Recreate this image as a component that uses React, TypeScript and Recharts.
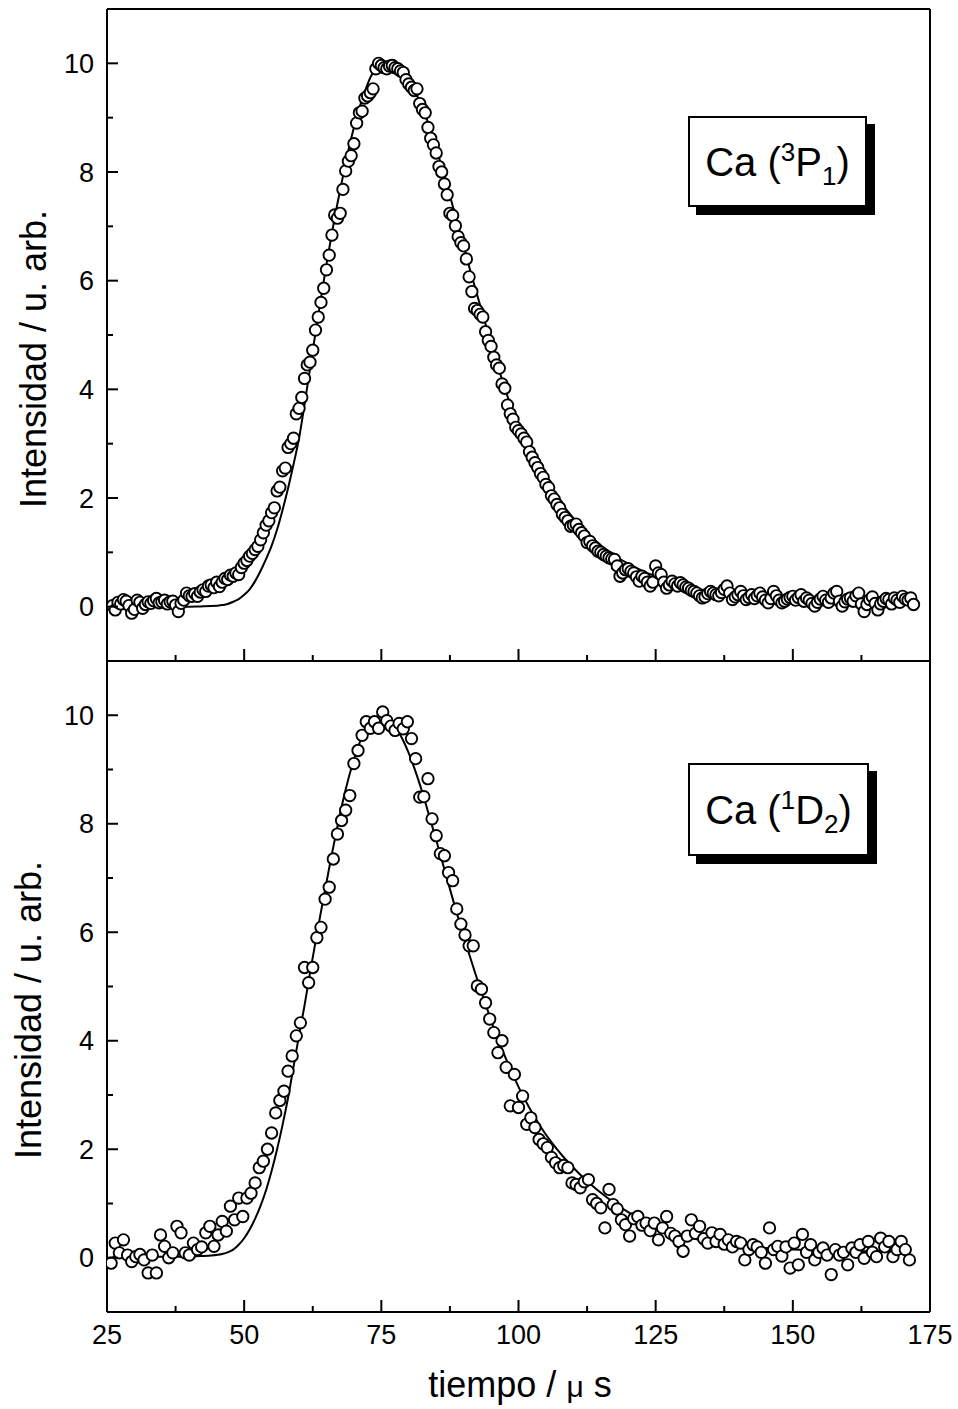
import React from 'react';
import { ComposedChart, Line, ReferenceLine, Scatter, XAxis, YAxis } from 'recharts';

const FONT = '"Liberation Sans", Arial, Helvetica, sans-serif';

// sampling grid of the measured points (µs)
const TOP_T0 = 26;
const TOP_DT = 0.5;
const BOT_T0 = 25.75;
const BOT_DT = 0.75;

// Ca(3P1) measured intensity, one value per grid step
const TOP_V = [
  0.02, -0.06, 0.08, 0.05, 0.13, 0.1, 0.02, -0.12, -0.05, 0.12,
  0.08, -0.03, 0.04, 0.09, 0.06, 0.11, 0.15, 0.07, 0.09, 0.12,
  0.05, 0.09, 0.1, 0.03, -0.09, 0.06, 0.12, 0.25, 0.2, 0.19,
  0.24, 0.19, 0.27, 0.31, 0.28, 0.38, 0.4, 0.35, 0.45, 0.37,
  0.45, 0.52, 0.5, 0.58, 0.56, 0.62, 0.59, 0.72, 0.8, 0.85,
  0.93, 0.98, 1.05, 1.11, 1.23, 1.36, 1.5, 1.58, 1.73, 1.82,
  2.13, 2.2, 2.5, 2.55, 2.93, 3.0, 3.1, 3.55, 3.65, 3.85,
  4.2, 4.45, 4.5, 4.72, 5.09, 5.33, 5.6, 5.86, 6.2, 6.47,
  6.84, 7.21, 7.15, 7.24, 7.68, 8.02, 8.2, 8.3, 8.52, 8.9,
  9.09, 9.12, 9.36, 9.4, 9.46, 9.53, 9.9, 10.0, 9.96, 9.92,
  9.9, 9.95, 9.96, 9.92, 9.9, 9.86, 9.83, 9.7, 9.62, 9.56,
  9.5, 9.53, 9.26, 9.15, 9.09, 8.82, 8.62, 8.5, 8.35, 8.1,
  8.0, 7.78, 7.58, 7.24, 7.2, 7.01, 6.81, 6.7, 6.64, 6.4,
  6.07, 5.8, 5.49, 5.45, 5.38, 5.33, 5.06, 4.9, 4.79, 4.59,
  4.45, 4.39, 4.1, 4.02, 3.71, 3.55, 3.45, 3.3, 3.24, 3.18,
  3.1, 3.03, 2.85, 2.75, 2.65, 2.56, 2.45, 2.38, 2.25, 2.19,
  2.04, 1.98, 1.88, 1.82, 1.7, 1.64, 1.58, 1.48, 1.5, 1.52,
  1.42, 1.36, 1.3, 1.18, 1.2, 1.12, 1.08, 1.02, 1.0, 0.96,
  0.93, 0.9, 0.88, 0.87, 0.75, 0.56, 0.62, 0.68, 0.7, 0.65,
  0.62, 0.55, 0.47, 0.56, 0.52, 0.45, 0.38, 0.45, 0.75, 0.62,
  0.59, 0.45, 0.34, 0.4, 0.47, 0.42, 0.38, 0.44, 0.4, 0.36,
  0.34, 0.3, 0.28, 0.25, 0.2, 0.16, 0.18, 0.24, 0.28, 0.25,
  0.22, 0.2, 0.26, 0.32, 0.38, 0.25, 0.13, 0.18, 0.22, 0.28,
  0.2, 0.13, 0.17, 0.22, 0.15, 0.2, 0.25, 0.18, 0.12, 0.07,
  0.15, 0.28, 0.2, 0.12, 0.07, 0.1, 0.14, 0.17, 0.19, 0.12,
  0.17, 0.22, 0.1, 0.16, 0.12, 0.06, 0.01, 0.08, 0.14, 0.19,
  0.12, 0.08, 0.16, 0.25, 0.28, 0.1, 0.01, 0.09, 0.14, 0.16,
  0.1, 0.2, 0.25, 0.05, -0.09, 0.04, 0.13, 0.18, 0.06, -0.06,
  0.05, 0.1, 0.15, 0.13, 0.05, 0.16, 0.12, 0.08, 0.19, 0.14,
  0.12, 0.16, 0.04,
];

// Ca(1D2) measured intensity
const BOT_V = [
  -0.1, 0.27, 0.09, 0.33, 0.05, -0.07, 0.02, 0.06,
  -0.04, -0.28, 0.05, -0.28, 0.42, 0.21, 0.0, 0.09,
  0.58, 0.46, 0.09, 0.05, 0.27, 0.15, 0.2, 0.46,
  0.58, 0.21, 0.42, 0.67, 0.49, 0.95, 0.7, 1.1,
  0.76, 1.1, 1.19, 1.38, 1.66, 1.78, 2.0, 2.3,
  2.67, 2.9, 3.07, 3.44, 3.72, 4.09, 4.33, 5.35,
  5.07, 5.35, 5.9, 6.09, 6.61, 6.83, 7.35, 7.81,
  8.06, 8.25, 8.52, 9.11, 9.35, 9.63, 9.88, 9.76,
  9.88, 9.76, 10.06, 9.9, 9.8, 9.72, 9.85, 9.75,
  9.88, 9.57, 9.2, 8.49, 8.5, 8.83, 8.09, 7.78,
  7.45, 7.41, 7.1, 6.95, 6.43, 6.15, 5.95, 5.75,
  5.75, 5.01, 4.95, 4.7, 4.4, 4.15, 3.78, 4.0,
  3.51, 2.8, 3.38, 2.77, 2.98, 2.46, 2.58, 2.4,
  2.18, 2.1, 2.03, 1.85, 1.75, 1.66, 1.7, 1.66,
  1.38, 1.35, 1.29, 1.4, 1.44, 1.07, 1.0, 0.92,
  0.55, 1.26, 0.98, 0.9, 0.7, 0.61, 0.4, 0.72,
  0.76, 0.6, 0.64, 0.5, 0.64, 0.33, 0.55, 0.76,
  0.45, 0.4, 0.3, 0.12, 0.4, 0.7, 0.45, 0.58,
  0.35, 0.27, 0.46, 0.3, 0.43, 0.25, 0.33, 0.2,
  0.3, 0.27, -0.04, 0.15, 0.24, 0.2, 0.1, -0.1,
  0.55, 0.15, 0.21, 0.03, 0.2, -0.19, 0.27, -0.13,
  0.43, 0.1, 0.24, -0.04, 0.1, 0.18, 0.05, -0.31,
  0.15, 0.05, 0.1, -0.13, 0.18, 0.1, 0.24, -0.01,
  0.3, 0.1, 0.02, 0.36, 0.2, 0.3, 0.02, 0.15,
  0.3, 0.15, -0.04,
];

// fitted curves, read at these times
const FIT_T = [
  26, 30, 35, 40, 42, 44,
  46, 47, 48, 49, 50, 51, 52, 53, 54, 55,
  56, 57, 58, 59, 60, 61, 62, 63, 64, 65,
  66, 67, 68, 69, 70, 71, 72, 73, 74, 75,
  76, 77, 78, 79, 80, 81, 82, 83, 84, 85,
  86, 87, 88, 89, 90, 91, 92, 93, 94, 95,
  96, 97, 98, 99, 100,
  102, 104, 106, 108, 110, 112, 114, 116, 118, 120,
  123, 126, 130, 135, 140, 145, 150, 155, 160, 165, 171.5,
];

const TOP_FIT = [
  0, 0, 0, 0, 0.005, 0.01,
  0.03, 0.05, 0.09, 0.14, 0.22, 0.32, 0.47, 0.66, 0.88, 1.12,
  1.42, 1.78, 2.18, 2.62, 3.1, 3.72, 4.38, 5.04, 5.68, 6.3,
  6.88, 7.42, 7.92, 8.4, 8.82, 9.18, 9.48, 9.74, 9.9, 9.99,
  9.99, 9.95, 9.88, 9.78, 9.65, 9.5, 9.3, 9.05, 8.76, 8.44,
  8.1, 7.75, 7.38, 7.0, 6.63, 6.26, 5.9, 5.55, 5.2, 4.86,
  4.52, 4.18, 3.87, 3.58, 3.32,
  2.88, 2.5, 2.16, 1.88, 1.63, 1.41, 1.22, 1.05, 0.91, 0.79,
  0.64, 0.52, 0.39, 0.28, 0.2, 0.15, 0.12, 0.1, 0.09, 0.08, 0.07,
];

const BOT_FIT = [
  0.02, 0.02, 0.02, 0.02, 0.03, 0.04,
  0.07, 0.1, 0.15, 0.24, 0.36, 0.52, 0.72, 0.96, 1.25, 1.6,
  2.0, 2.45, 2.95, 3.52, 4.1, 4.65, 5.25, 5.82, 6.38, 6.92,
  7.45, 7.95, 8.42, 8.83, 9.18, 9.48, 9.72, 9.88, 9.97, 10.0,
  9.96, 9.86, 9.72, 9.53, 9.3, 9.03, 8.73, 8.4, 8.05, 7.7,
  7.34, 6.98, 6.62, 6.27, 5.93, 5.6, 5.28, 4.97, 4.67, 4.38,
  4.1, 3.84, 3.6, 3.37, 3.15,
  2.76, 2.42, 2.13, 1.88, 1.66, 1.46, 1.28, 1.12, 0.97, 0.84,
  0.67, 0.53, 0.4, 0.29, 0.22, 0.18, 0.15, 0.14, 0.13, 0.12, 0.12,
];

const X_TICKS = [25, 37.5, 50, 62.5, 75, 87.5, 100, 112.5, 125, 137.5, 150, 162.5, 175];
const Y_TICKS = [0, 1, 2, 3, 4, 5, 6, 7, 8, 9, 10];

const topPts = TOP_V.map((v, i) => ({ t: TOP_T0 + i * TOP_DT, v }));
const botPts = BOT_V.map((v, i) => ({ t: BOT_T0 + i * BOT_DT, v }));
const topFit = FIT_T.map((t, i) => ({ t, v: TOP_FIT[i] }));
const botFit = FIT_T.map((t, i) => ({ t, v: BOT_FIT[i] }));

const axisLine = { stroke: '#000', strokeWidth: 2 };

function XTick(props: any) {
  const { x, y, payload, showLabel } = props;
  const major = payload.value % 25 === 0;
  return (
    <g>
      <line x1={x} y1={y} x2={x} y2={y - (major ? 12 : 6)} stroke="#000" strokeWidth={2} />
      {showLabel && major && (
        <text x={x} y={y + 32} textAnchor="middle" fontSize={27} fontFamily={FONT} fill="#000">
          {payload.value}
        </text>
      )}
    </g>
  );
}

function YTick(props: any) {
  const { x, y, payload } = props;
  const major = payload.value % 2 === 0;
  return (
    <g>
      <line x1={x} y1={y} x2={x + (major ? 11 : 6)} y2={y} stroke="#000" strokeWidth={2} />
      {major && (
        <text x={x - 13} y={y} dy="0.36em" textAnchor="end" fontSize={27} fontFamily={FONT} fill="#000">
          {payload.value}
        </text>
      )}
    </g>
  );
}

function Ring(props: any) {
  return <circle cx={props.cx} cy={props.cy} r={5.7} fill="#fff" stroke="#000" strokeWidth={1.9} />;
}

function Panel({ pts, fit, height, marginTop, xAxisHeight, showLabels, drawTop }: any) {
  return (
    <ComposedChart width={958} height={height} margin={{ top: marginTop, right: 28, bottom: 0, left: 0 }}>
      <XAxis
        type="number"
        dataKey="t"
        domain={[25, 175]}
        ticks={X_TICKS}
        interval={0}
        allowDataOverflow
        height={xAxisHeight}
        axisLine={axisLine}
        tickLine={false}
        tickSize={0}
        tickMargin={0}
        tick={(p: any) => <XTick {...p} showLabel={showLabels} />}
      />
      <YAxis
        type="number"
        dataKey="v"
        domain={[-1, 11]}
        ticks={Y_TICKS}
        interval={0}
        allowDataOverflow
        width={107}
        axisLine={axisLine}
        tickLine={false}
        tickSize={0}
        tickMargin={0}
        tick={(p: any) => <YTick {...p} />}
      />
      <ReferenceLine x={175} stroke="#000" strokeWidth={2} />
      {drawTop && <ReferenceLine y={11} stroke="#000" strokeWidth={2} />}
      <Scatter data={pts} shape={Ring} isAnimationActive={false} />
      <Line
        data={fit}
        dataKey="v"
        type="monotone"
        dot={false}
        activeDot={false}
        stroke="#000"
        strokeWidth={2}
        isAnimationActive={false}
      />
    </ComposedChart>
  );
}

function StateBox({ left, top, width, height, sup, letter, sub }: any) {
  return (
    <div
      style={{
        position: 'absolute',
        left,
        top,
        width,
        height,
        boxSizing: 'border-box',
        border: '2px solid #000',
        boxShadow: '8px 8px 0 #000',
        background: '#fff',
        display: 'flex',
        alignItems: 'center',
        justifyContent: 'center',
        fontFamily: FONT,
        fontSize: 40,
        color: '#000',
        lineHeight: 1,
        whiteSpace: 'nowrap',
      }}
    >
      <span>
        Ca (<span style={{ fontSize: 26, position: 'relative', top: -15 }}>{sup}</span>
        {letter}
        <span style={{ fontSize: 26, position: 'relative', top: 9 }}>{sub}</span>)
      </span>
    </div>
  );
}

export default function App() {
  return (
    <div style={{ position: 'absolute', left: 0, top: 0, width: 958, height: 1409, background: '#fff' }}>
      <div style={{ position: 'absolute', left: 0, top: 0 }}>
        <Panel pts={topPts} fit={topFit} height={700} marginTop={9} xAxisHeight={39} showLabels={false} drawTop />
      </div>
      <div style={{ position: 'absolute', left: 0, top: 661 }}>
        <Panel pts={botPts} fit={botFit} height={748} marginTop={0} xAxisHeight={97} showLabels drawTop={false} />
      </div>
      <svg
        width={958}
        height={1409}
        style={{ position: 'absolute', left: 0, top: 0, pointerEvents: 'none' }}
        fontFamily={FONT}
        fill="#000"
      >
        <text transform="translate(46,359) rotate(-90)" textAnchor="middle" fontSize={36}>
          Intensidad / u. arb.
        </text>
        <text transform="translate(41,1010) rotate(-90)" textAnchor="middle" fontSize={36}>
          Intensidad / u. arb.
        </text>
        <text x={520} y={1397} textAnchor="middle" fontSize={36}>
          tiempo / <tspan fontSize={30}>μ</tspan> s
        </text>
      </svg>
      <StateBox left={688} top={116} width={179} height={91} sup="3" letter="P" sub="1" />
      <StateBox left={688} top={763} width={181} height={93} sup="1" letter="D" sub="2" />
    </div>
  );
}
